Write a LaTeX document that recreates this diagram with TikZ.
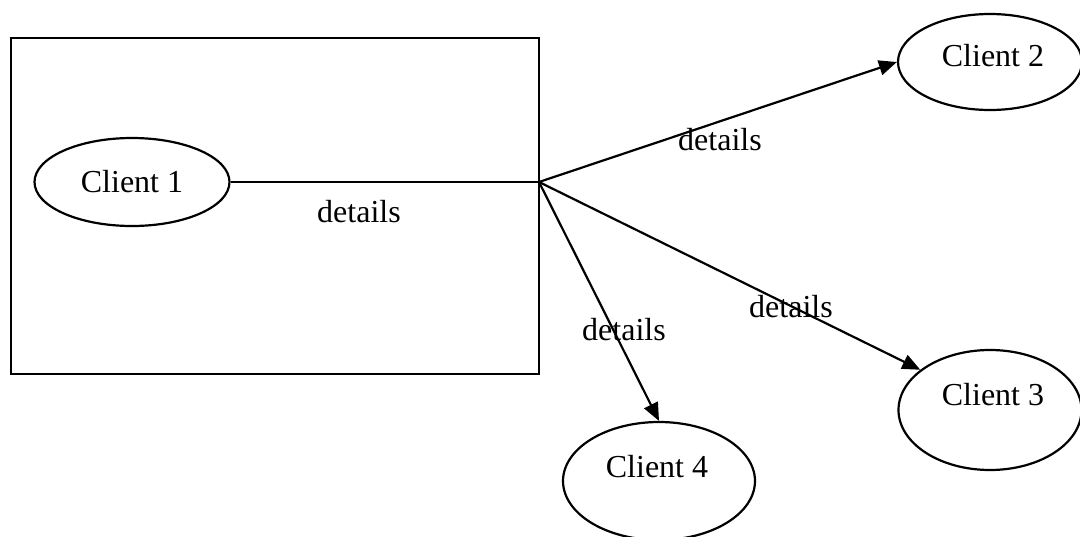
\documentclass[tikz,border=0pt]{standalone}
\usepackage{fontspec}
\setmainfont{Liberation Serif}
\usetikzlibrary{shapes.geometric,arrows.meta}
\begin{document}
\begin{tikzpicture}[x=1pt,y=-1pt,
  every node/.style={font=\fontsize{32}{38}\selectfont},
  oval/.style={draw,ellipse,line width=2.2pt,inner sep=0pt},
  txt/.style={inner sep=0pt},
  conn/.style={line width=2.2pt},
  arr/.style={conn,-{Triangle[length=18pt,width=15pt]}}]
\useasboundingbox (0,0) rectangle (1080,536);
\node[draw,line width=2.2pt,minimum width=528pt,minimum height=336pt,inner sep=0pt] (box) at (275,206) {};
\node[oval,minimum width=195pt,minimum height=88pt] (c1) at (132,182) {};
\node[oval,minimum width=184pt,minimum height=96pt] (c2) at (990,62) {};
\node[oval,minimum width=183pt,minimum height=120pt] (c3) at (990,410) {};
\node[oval,minimum width=192pt,minimum height=118pt] (c4) at (659,481) {};
\node[txt] (t1) at (132,182) {Client 1};
\node[txt] (t2) at (993,56) {Client 2};
\node[txt] (t3) at (993,395) {Client 3};
\node[txt] (t4) at (657,467) {Client 4};
\coordinate (j) at (539,182);
\draw[conn] (c1) -- (j);
\draw[arr] (j) -- (c2.west);
\draw[arr] (j) -- (c3.150);
\draw[arr] (j) -- (c4.north);
\node[txt] (l1) at (359,212) {details};
\node[txt] (l2) at (720,140) {details};
\node[txt] (l3) at (791,307) {details};
\node[txt] (l4) at (624,330) {details};
\end{tikzpicture}
\end{document}
